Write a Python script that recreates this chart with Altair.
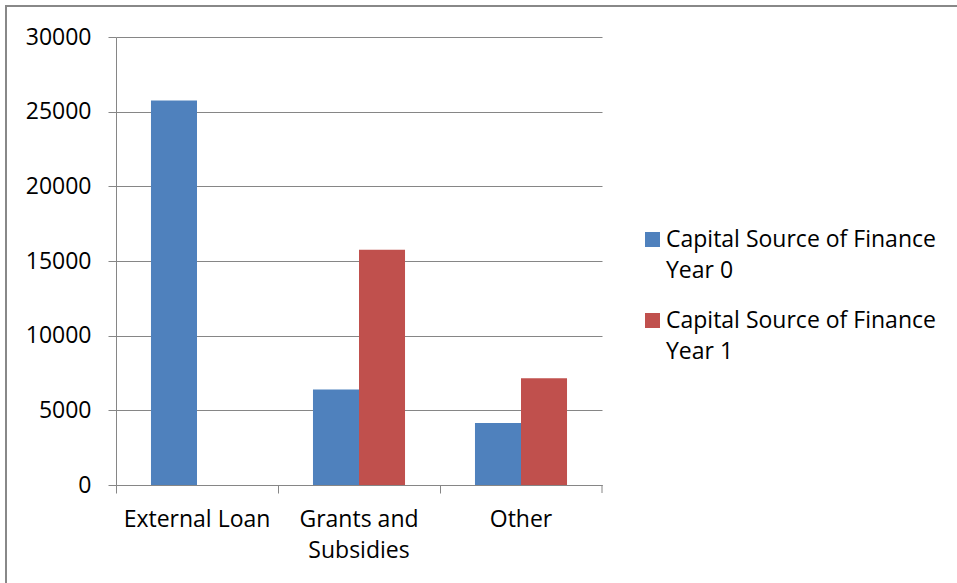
import altair as alt
import pandas as pd

categories = ["External Loan", "Grants and Subsidies", "Other"]
series_names = ["Capital Source of Finance Year 0", "Capital Source of Finance Year 1"]
year0 = [25750, 6400, 4150]
year1 = [0, 15750, 7150]
colors = ["#4F81BD", "#C0504D"]

rows = []
for c, a, b in zip(categories, year0, year1):
    rows.append({"cat": c, "series": series_names[0], "value": a})
    rows.append({"cat": c, "series": series_names[1], "value": b})
df = pd.DataFrame(rows)

FONT = "Open Sans"
FS = 23
GRID = "#868686"

bars = alt.Chart(df).mark_bar().encode(
    x=alt.X("cat:N", sort=categories, title=None,
            scale=alt.Scale(paddingInner=0, paddingOuter=0),
            axis=alt.Axis(labelAngle=0, bandPosition=0, ticks=True, tickSize=8,
                          tickColor=GRID, domainColor=GRID, labelPadding=15,
                          labelFont=FONT, labelFontSize=FS, labelColor="#000",
                          labelLineHeight=31,
                          labelExpr="datum.label == 'Grants and Subsidies' ? ['Grants and', 'Subsidies'] : datum.label")),
    xOffset=alt.XOffset("series:N", sort=series_names,
                        scale=alt.Scale(paddingInner=0, paddingOuter=0.76)),
    y=alt.Y("value:Q", title=None,
            scale=alt.Scale(domain=[0, 30000], nice=False),
            axis=alt.Axis(values=[0, 5000, 10000, 15000, 20000, 25000, 30000],
                          format="d", tickSize=8, tickColor=GRID, domainColor=GRID,
                          gridColor=GRID, gridWidth=1, labelPadding=17,
                          labelFont=FONT, labelFontSize=FS, labelColor="#000")),
    color=alt.Color("series:N", sort=series_names,
                    scale=alt.Scale(domain=series_names, range=colors),
                    legend=alt.Legend(title=None, orient="none", legendX=525, legendY=191,
                                      symbolType="square", symbolSize=225,
                                      symbolStrokeWidth=0, labelFont=FONT,
                                      labelFontSize=FS, labelColor="#000",
                                      labelLimit=400,
                                      rowPadding=26, labelOffset=2,
                                      labelExpr="[slice(datum.label, 0, 25), slice(datum.label, 26)]")),
)

right_tick = alt.Chart(pd.DataFrame({"v": [0]})).mark_rule(color=GRID).encode(
    x=alt.value(486), y=alt.value(448), y2=alt.value(456)
)

border = alt.Chart(pd.DataFrame({"v": [0]})).mark_rect(
    fill=None, stroke="#888888", strokeWidth=2
).encode(
    x=alt.value(-110), y=alt.value(-31), x2=alt.value(900), y2=alt.value(700)
)

chart = alt.layer(bars, right_tick, border).properties(
    width=486, height=448,
    autosize=alt.AutoSizeParams(type="none"),
    padding={"left": 116, "top": 37, "right": 355, "bottom": 98},
).configure(
    background="white",
    style={"guide-label": {"lineHeight": 31}},
).configure_view(stroke=None)

chart.save("out.html", embed_options={"renderer": "svg", "actions": False})
